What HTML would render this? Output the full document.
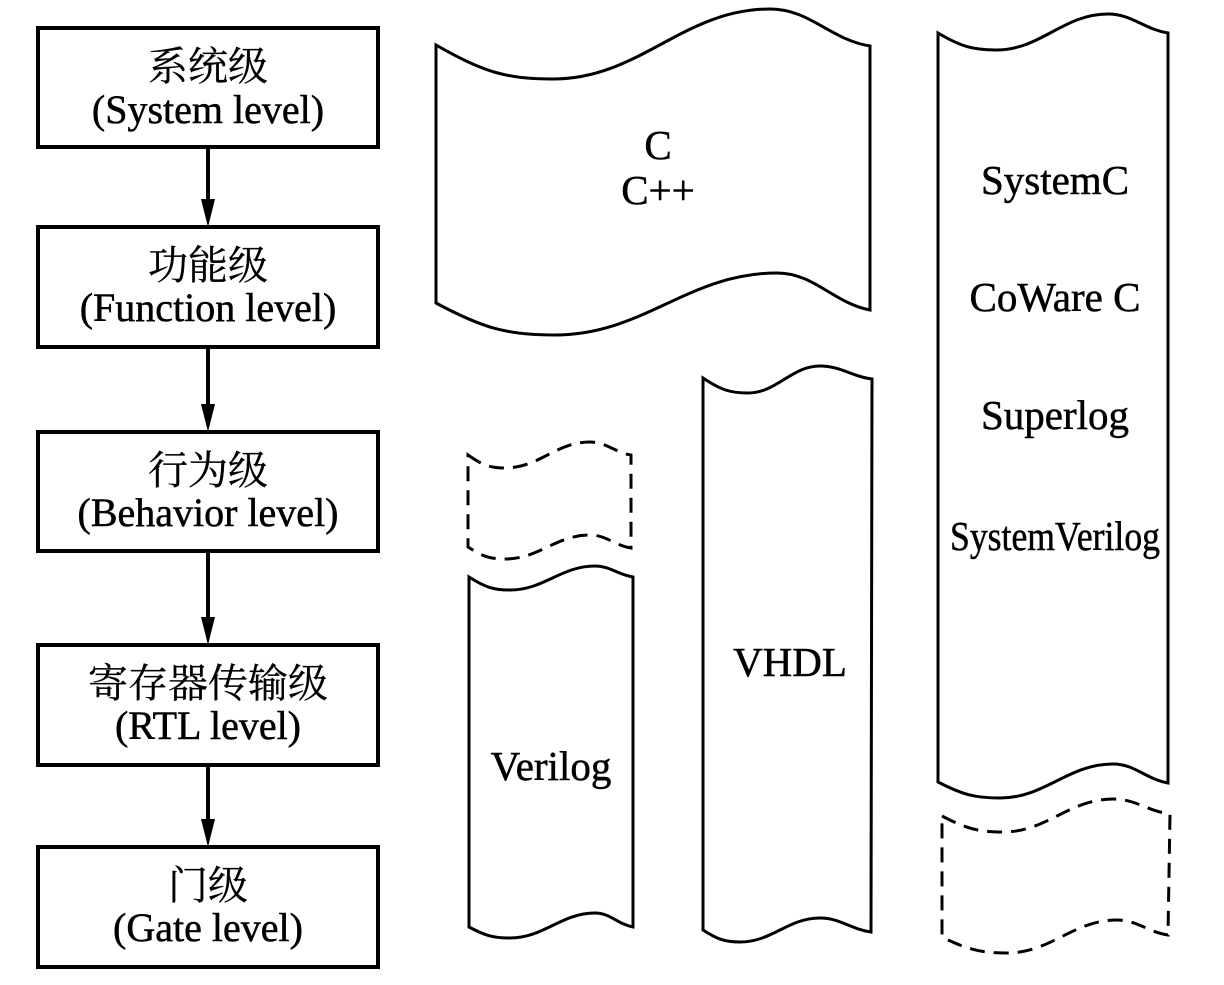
<!DOCTYPE html>
<html><head><meta charset="utf-8"><style>
html,body{margin:0;padding:0;background:#fff;}
svg{display:block;}
text{font-family:"Liberation Serif","Noto Serif CJK SC",serif;fill:#000;stroke:#000;stroke-width:0.5;}
.cj{font-family:"Liberation Serif","Noto Serif CJK SC",serif;stroke-width:0.3;}
</style></head><body>
<svg width="1224" height="985" viewBox="0 0 1224 985" xmlns="http://www.w3.org/2000/svg">
<g fill="none" stroke="#000" stroke-width="4">
<rect x="38" y="28" width="340" height="119"/>
<rect x="38" y="227" width="340" height="120"/>
<rect x="38" y="432" width="340" height="119"/>
<rect x="38" y="645" width="340" height="120"/>
<rect x="38" y="847" width="340" height="120"/>
<line x1="208" y1="147" x2="208" y2="205"/>
<line x1="208" y1="347" x2="208" y2="410"/>
<line x1="208" y1="551" x2="208" y2="623"/>
<line x1="208" y1="765" x2="208" y2="825"/>
</g>
<g fill="#000">
<polygon points="201,199 215,199 208,227"/>
<polygon points="201,404 215,404 208,432"/>
<polygon points="201,617 215,617 208,645"/>
<polygon points="201,819 215,819 208,847"/>
</g>
<g font-size="40" text-anchor="middle">
<text class="cj" x="208" y="80">系统级</text>
<text x="208" y="123">(System level)</text>
<text class="cj" x="208" y="279">功能级</text>
<text x="208" y="321">(Function level)</text>
<text class="cj" x="208" y="484">行为级</text>
<text x="208" y="526">(Behavior level)</text>
<text class="cj" x="208" y="697">寄存器传输级</text>
<text x="208" y="739">(RTL level)</text>
<text class="cj" x="208" y="899">门级</text>
<text x="208" y="941">(Gate level)</text>
</g>
<g fill="none" stroke="#000" stroke-width="3" stroke-linejoin="miter">
<path d="M436,45 C483,72 506,79 553,79 C640,79 683,9 770,9 C810,9 830,39.6 870,46 L870,310 C832.8,302.6 814.2,273 777,273 C688.2,273 643.8,335 555,335 C507.4,335 483.6,328.6 436,303 Z"/>
<path d="M938,33 C961,46.6 973,50 996,50 C1041,50 1063,14 1108,14 C1132,14 1144,29.2 1168,33 L1168,783 C1146,779.2 1135,764 1113,764 C1067.8,764 1045.2,798 1000,798 C975.2,798 962.8,794.8 938,782 Z"/>
<path d="M469,577 C485.4,587.4 493.6,590 510,590 C544,590 561,566 595,566 C610.2,566 617.8,574.8 633,577 L633,927 C617.8,924.2 610.2,913 595,913 C561,913 544,938 510,938 C493.6,938 485.4,935.8 469,927 Z"/>
<path d="M703,378 C721,390 730,393 748,393 C776.8,393 791.2,366 820,366 C840.8,366 851.2,376.4 872,379 L871,932 C850.6,929.2 840.4,918 820,918 C788,918 772,942 740,942 C725.2,942 717.8,939.6 703,930 Z"/>
</g>
<g fill="none" stroke="#000" stroke-width="3" stroke-dasharray="15,9">
<path d="M468,455 C482.8,465.4 490.2,468 505,468 C539,468 556,442 590,442 C606.4,442 614.6,452.4 631,455 L631,548 C614.6,545.4 606.4,535 590,535 C556,535 539,559 505,559 C490.2,559 482.8,556.6 468,547 Z"/>
<path d="M942,816 C966.4,828.8 978.6,832 1003,832 C1047,832 1069,799 1113,799 C1135.8,799 1147.2,811 1170,814 L1168,935 C1147.6,932 1137.4,920 1117,920 C1073,920 1051,953 1007,953 C981,953 968,949.8 942,937 Z"/>
</g>
<g font-size="41" text-anchor="middle">
<text x="658" y="159">C</text>
<text x="658" y="204">C++</text>
<text x="551" y="780">Verilog</text>
<text x="790" y="676">VHDL</text>
<text x="1055" y="194">SystemC</text>
<text x="1055" y="311">CoWare C</text>
<text x="1055" y="429">Superlog</text>
<text x="1055" y="550" textLength="210" lengthAdjust="spacingAndGlyphs">SystemVerilog</text>
</g>
</svg>
</body></html>
